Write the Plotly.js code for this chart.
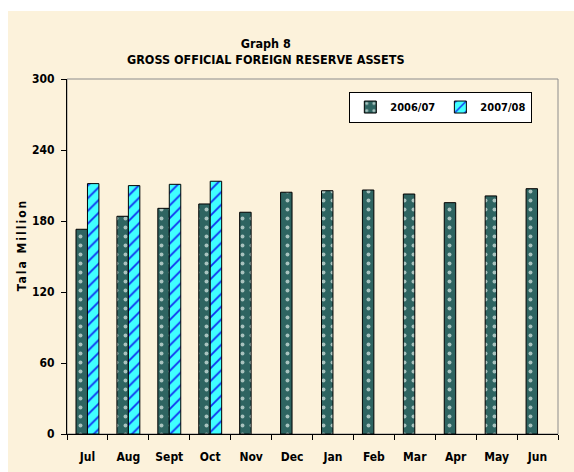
<!DOCTYPE html>
<html>
<head>
<meta charset="utf-8">
<script src="https://cdn.plot.ly/plotly-3.0.1.min.js"></script>
<style>
  html, body { margin: 0; padding: 0; background: #ffffff; }
  #bg { position: absolute; left: 8px; top: 11px; width: 566px; height: 461px; background: #FCF2DB; }
  #chart { position: absolute; left: 0; top: 0; width: 574px; height: 472px; }
</style>
</head>
<body>
<div id="bg"></div>
<div id="chart"></div>
<script>
const months = ['Jul','Aug','Sept','Oct','Nov','Dec','Jan','Feb','Mar','Apr','May','Jun'];
const series2006 = [173.0, 184.0, 190.7, 194.4, 187.4, 204.3, 205.6, 206.2, 202.8, 195.5, 201.2, 207.3];
const series2007 = [211.6, 209.9, 211.0, 213.6, null, null, null, null, null, null, null, null];
const seriesNames = ['2006/07', '2007/08'];
const yTicks = [0, 60, 120, 180, 240, 300];

const FONT = '"Liberation Sans Narrow", "Arial Narrow", "DejaVu Sans Condensed", "Liberation Sans", sans-serif';

const traces = [
  {
    type: 'bar', name: seriesNames[0], x: months, y: series2006,
    marker: {
      color: '#2E6461',
      line: { color: '#000000', width: 1 },
      pattern: { shape: '.', fgcolor: '#A9C3BF', bgcolor: '#2E6461', size: 9, solidity: 0.15 }
    },
    hoverinfo: 'x+y+name'
  },
  {
    type: 'bar', name: seriesNames[1], x: months, y: series2007,
    marker: {
      color: '#40FFFF',
      line: { color: '#000000', width: 1 },
      pattern: { shape: '/', fgcolor: '#1030F0', bgcolor: '#40FFFF', size: 9, solidity: 0.2 }
    },
    hoverinfo: 'x+y+name'
  }
];

const layout = {
  width: 574, height: 472,
  margin: { l: 67, r: 16, t: 79, b: 38, pad: 0 },
  paper_bgcolor: 'rgba(0,0,0,0)',
  plot_bgcolor: 'rgba(0,0,0,0)',
  font: { family: FONT, size: 12, color: '#000000', weight: 'bold' },
  title: {
    text: 'Graph 8<br>GROSS OFFICIAL FOREIGN RESERVE ASSETS',
    font: { family: FONT, size: 12.5, color: '#000000', weight: 'bold' },
    xref: 'container', x: 0.463, xanchor: 'center',
    yref: 'container', y: 1 - 48 / 472, yanchor: 'top'
  },
  barmode: 'group',
  bargap: 0.44,
  bargroupgap: 0,
  showlegend: true,
  legend: {
    orientation: 'h',
    x: 0.575, xanchor: 'left',
    y: 0.921, yanchor: 'middle',
    bgcolor: '#ffffff',
    bordercolor: '#000000', borderwidth: 1,
    font: { family: FONT, size: 11, color: '#000000', weight: 'bold' }
  },
  xaxis: {
    type: 'category',
    categoryorder: 'array', categoryarray: months,
    showline: true, linecolor: '#000000', linewidth: 1,
    ticks: 'outside', ticklen: 5, tickcolor: '#000000', tickson: 'boundaries',
    ticklabelstandoff: 12,
    showgrid: false, zeroline: false,
    tickfont: { family: FONT, size: 12, color: '#000000', weight: 'bold' },
    fixedrange: true
  },
  yaxis: {
    range: [0, 300],
    tickvals: yTicks, ticktext: yTicks.map(String),
    showline: true, linecolor: '#000000', linewidth: 1,
    ticks: 'outside', ticklen: 5, tickcolor: '#000000',
    ticklabelstandoff: 4,
    showgrid: false, zeroline: false,
    tickfont: { family: FONT, size: 12, color: '#000000', weight: 'bold' },
    title: { text: 'Tala Million', font: { family: FONT, size: 12, color: '#000000', weight: 'bold' }, standoff: 2 },
    fixedrange: true
  },
  shapes: [
    { type: 'rect', xref: 'paper', yref: 'paper', x0: 0, x1: 1, y0: 0, y1: 1,
      line: { color: '#8C8C8C', width: 1 }, fillcolor: 'rgba(0,0,0,0)', layer: 'below' }
  ]
};

Plotly.newPlot('chart', traces, layout, { displayModeBar: false, staticPlot: true }).then(function () {
  const yt = document.querySelector('.ytitle');
  if (yt) {
    yt.style.letterSpacing = '2px';
    // re-centre the letter-spaced title along its own direction
    const x = parseFloat(yt.getAttribute('x'));
    const y = parseFloat(yt.getAttribute('y'));
    const bb = yt.getBBox();
    const cx = bb.x + bb.width / 2;
    const targetScreenY = 245;
    const delta = (x + y - targetScreenY) - cx;
    yt.setAttribute('x', x + delta);
    const tr = yt.getAttribute('transform') || '';
    yt.setAttribute('transform', tr.replace(/rotate\(([^,]+),([^,]+),([^)]+)\)/, function (m, a) {
      return 'rotate(' + a + ',' + (x) + ',' + y + ')';
    }));
  }
});
</script>
</body>
</html>
